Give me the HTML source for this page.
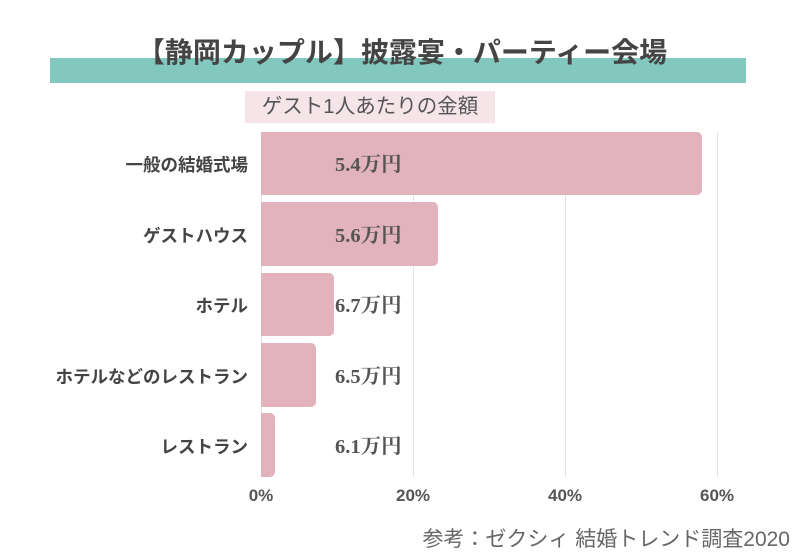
<!DOCTYPE html>
<html><head><meta charset="utf-8"><style>
body{margin:0;width:800px;height:550px;background:#fff;position:relative;overflow:hidden;font-family:"Liberation Sans","Noto Sans CJK JP",sans-serif}
.a{position:absolute}
.bar{position:absolute;left:261px;background:#e2b3bc;border-radius:0 5px 5px 0}
.g{position:absolute;top:132px;height:345px;width:1px;background:#e3e3e3}
.cat{position:absolute;right:552px;font-size:17.5px;font-weight:bold;color:#444;white-space:nowrap}
.val{position:absolute;left:335px;font-family:"Liberation Serif","Noto Serif CJK SC",serif;font-weight:bold;font-size:20.5px;color:#555}
.t{position:absolute;top:486px;font-size:17px;font-weight:bold;color:#555;width:80px;text-align:center}
</style></head><body>
<div class="a" style="left:50px;top:58px;width:696px;height:25px;background:#83c8be"></div>
<div class="a" style="left:0;width:804px;top:33px;text-align:center;font-size:28px;font-weight:bold;color:#444;line-height:40px">【静岡カップル】披露宴・パーティー会場</div>
<div class="a" style="left:245px;top:91px;width:250px;height:32px;background:#f5e4e8;font-size:20.5px;color:#555;line-height:32px;text-align:center">ゲスト1人あたりの金額</div>
<div class="g" style="left:261px"></div><div class="g" style="left:413px"></div><div class="g" style="left:565px"></div><div class="g" style="left:717px"></div>
<div class="bar" style="top:132px;height:63px;width:441px"></div>
<div class="bar" style="top:202px;height:64px;width:177px"></div>
<div class="bar" style="top:273px;height:63px;width:73px"></div>
<div class="bar" style="top:343px;height:64px;width:55px"></div>
<div class="bar" style="top:413px;height:64px;width:14px"></div>
<div class="cat" style="top:152px">一般の結婚式場</div>
<div class="cat" style="top:223px">ゲストハウス</div>
<div class="cat" style="top:293px">ホテル</div>
<div class="cat" style="top:364px">ホテルなどのレストラン</div>
<div class="cat" style="top:434px">レストラン</div>
<div class="val" style="top:147px">5.4万円</div>
<div class="val" style="top:218px">5.6万円</div>
<div class="val" style="top:288px">6.7万円</div>
<div class="val" style="top:359px">6.5万円</div>
<div class="val" style="top:429px">6.1万円</div>
<div class="t" style="left:221px">0%</div><div class="t" style="left:373px">20%</div><div class="t" style="left:525px">40%</div><div class="t" style="left:677px">60%</div>
<div class="a" style="right:10px;top:523px;font-size:21px;color:#666">参考：ゼクシィ 結婚トレンド調査2020</div>
</body></html>
